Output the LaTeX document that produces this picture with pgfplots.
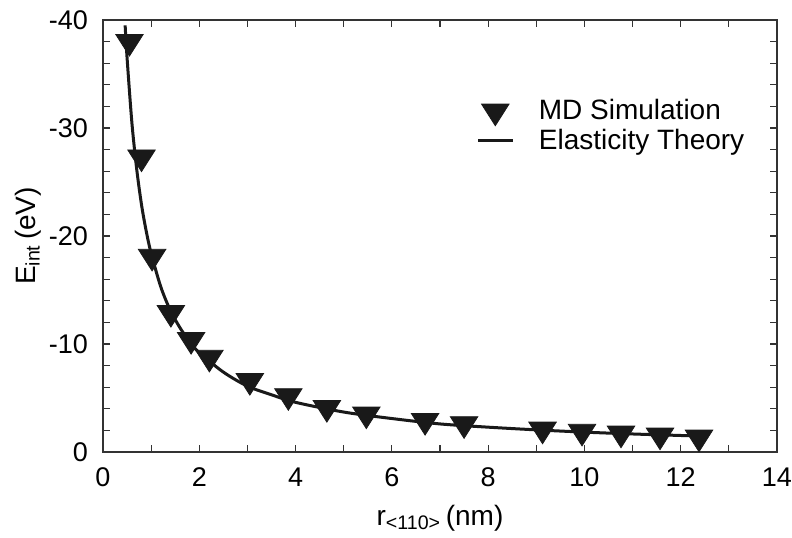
\documentclass[border=0pt]{standalone}
\usepackage{fontspec}
\setmainfont{Liberation Sans}
\usepackage{pgfplots}
\pgfplotsset{compat=1.18}
\begin{document}
\begin{tikzpicture}
\useasboundingbox (-51.5pt,-42.5pt) rectangle (344.5pt,226pt);
\begin{axis}[
  scale only axis, width=337pt, height=216pt,
  xmin=0, xmax=14, ymin=-40, ymax=0, y dir=reverse,
  xtick={0,2,...,14}, ytick={-40,-30,...,0},
  minor x tick num=1, minor y tick num=4,
  tick align=inside,
  major tick length=3.5pt, minor tick length=3.5pt,
  axis line style={line width=0.8pt, color=black!80},
  every tick/.style={black!80, line width=0.6pt},
  /pgf/number format/assume math mode=true,
  ticklabel style={font=\fontsize{13.5}{15}\selectfont},
  xticklabel style={yshift=-4.5pt},
  yticklabel style={xshift=-4pt},
  label style={font=\fontsize{14}{16}\selectfont},
  xlabel={r\textsubscript{<110>}\,(nm)},
  xlabel style={yshift=-2pt},
  ylabel={E\textsubscript{int}\,(eV)},
  ylabel style={yshift=-3pt},
  legend style={at={(axis description cs:0.545,0.835)}, anchor=north west, draw=none, fill=none, font=\fontsize{14}{16}\selectfont, row sep=-1pt},
  legend cell align=left,
]
\addplot[only marks, mark=triangle*, mark size=7.2pt,
  mark options={rotate=180, xscale=1.1, fill=black!90, draw=black!90}]
  coordinates {
  (0.55,-38.0) (0.80,-27.3) (1.02,-18.1) (1.41,-12.9) (1.83,-10.4)
  (2.21,-8.75) (3.05,-6.6) (3.85,-5.2) (4.65,-4.1) (5.47,-3.5)
  (6.69,-2.9) (7.50,-2.6) (9.13,-2.1) (9.95,-1.9) (10.76,-1.73)
  (11.57,-1.55) (12.38,-1.36)
  };
\addlegendentry{\hspace{10.5pt}MD Simulation}
\addplot[black!90, line width=1.5pt, smooth] coordinates {
  (0.46,-39.5) (0.5,-36.5) (0.6,-30.5) (0.7,-26.2) (0.8,-22.9) (0.9,-20.4)
  (1.0,-18.4) (1.2,-15.3) (1.4,-13.1) (1.6,-11.5) (1.8,-10.2) (2.0,-9.2)
  (2.5,-7.4) (3.0,-6.1) (3.5,-5.3) (4.0,-4.6) (5.0,-3.7) (6.0,-3.1)
  (7.0,-2.6) (8.0,-2.3) (9.0,-2.05) (10.0,-1.84) (11.0,-1.67) (12.0,-1.53)
  (12.4,-1.48)
  };
\addlegendentry{\hspace{10.5pt}Elasticity Theory}
\end{axis}
\end{tikzpicture}
\end{document}
